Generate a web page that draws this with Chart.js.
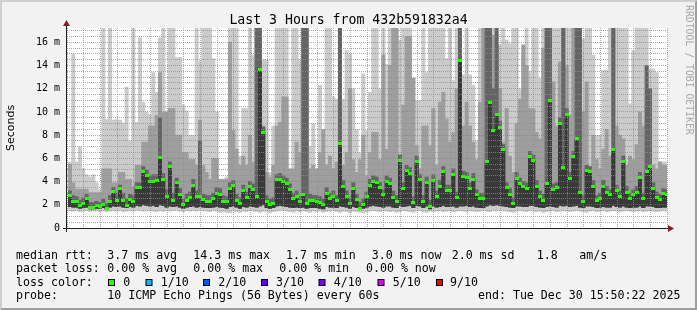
<!DOCTYPE html>
<html>
<head>
<meta charset="utf-8">
<script src="https://cdn.jsdelivr.net/npm/chart.js@4.4.1/dist/chart.umd.min.js"></script>
<style>
html,body{margin:0;padding:0;background:#f2f2f2;}
#wrap{width:697px;height:310px;position:relative;}
canvas{display:block;}
</style>
</head>
<body>
<div id="wrap"><canvas id="c" width="697" height="310"></canvas></div>
<script>
// ---------- data (ms), one value per 60 s sample, first sample 12:51 ----------
const med = [
2.8,2.3,2.25,1.9,2.1,2.55,1.75,1.75,1.9,1.85,
2.05,1.65,2.3,3.15,2.4,3.4,2.4,1.95,2.45,2.3,
3.45,3.45,4.9,4.5,4.05,4.05,4.1,6.1,4.15,2.75,
5.3,2.4,3.9,2.9,2.0,2.4,2.6,3.7,2.75,2.75,
2.45,2.25,2.25,2.5,3.0,
2.9,2.3,2.25,3.4,3.65,2.4,2.1,3.25,2.65,3.55,
3.35,2.7,13.7,8.25,2.25,2.05,2.1,4.15,4.2,4.0,
3.8,3.35,2.5,2.7,2.25,2.85,2.15,2.4,2.35,2.3,
2.2,2.0,3.0,2.55,2.75,2.35,7.25,3.6,2.7,2.1,
3.4,2.45,1.7,2.05,
2.7,
3.7,4.05,3.9,3.45,2.85,4.0,3.85,2.65,2.3,5.85,
3.4,4.95,4.7,2.2,5.7,4.15,2.3,3.9,1.85,4.1,
2.7,3.6,4.85,3.25,3.25,4.6,2.65,14.4,4.45,4.35,
3.4,4.2,2.85,2.55,2.5,5.75,10.8,8.4,9.75,8.7,
6.75,3.45,2.9,2.1,
4.3,
3.8,3.55,3.4,6.15,5.85,3.6,2.75,2.4,3.8,11.0,
3.3,3.45,9.0,5.25,9.8,4.3,6.15,7.7,3.1,2.3,
4.95,4.9,3.6,2.35,2.55,3.6,3.1,2.85,6.8,3.25,
2.75,5.75,3.1,2.55,2.85,3.1,4.35,2.5,4.9,5.3,
3.4,2.6,2.45,2.95,
2.9];

const smokeMax = [
5.7,15.0,5.7,7.0,5.1,4.6,4.4,4.6,3.9,3.3,
17.3,9.35,17.3,9.3,9.35,9.3,9.05,12.15,7.5,17.3,
9.1,16.4,10.85,10.0,9.8,13.4,11.7,16.4,17.3,10.0,
17.3,17.3,14.7,14.7,10.6,10.1,8.0,8.0,17.3,14.4,
17.3,17.3,17.3,14.6,10.0,
4.2,4.2,4.4,17.3,17.3,17.3,6.2,10.3,10.3,17.3,
14.9,17.3,17.3,14.5,14.5,4.8,8.8,17.3,17.3,17.3,
17.3,4.8,17.3,17.3,14.5,17.3,17.3,7.0,9.0,4.8,
12.3,8.5,17.3,17.3,11.3,11.1,17.3,11.1,15.3,15.0,
12.0,8.5,6.5,13.3,
8.4,
11.7,17.3,17.3,12.0,17.3,14.1,17.3,17.3,17.3,16.2,
17.3,17.3,17.3,12.9,11.0,11.0,17.3,13.4,17.3,17.3,
17.3,17.3,17.3,14.6,17.3,12.7,17.3,17.3,13.2,17.3,
13.2,12.3,7.5,17.3,17.3,17.3,17.3,17.3,16.6,15.8,
17.3,16.2,15.9,17.3,
17.3,
12.0,15.0,17.3,13.5,17.3,17.3,12.9,17.3,17.3,17.3,
17.3,17.3,17.3,17.3,17.3,17.3,17.3,17.3,17.3,16.3,
17.3,17.3,14.9,8.0,8.0,13.6,13.6,17.3,14.6,17.3,
17.3,17.3,17.3,10.7,15.3,17.3,17.3,17.3,17.3,13.7,
13.7,13.4,5.7,5.7,
5.7];

const smokeMidTop = [
5.5,3.9,3.35,3.35,3.35,3.35,3.05,3.05,3.05,3.05,
5.1,5.1,5.1,3.9,3.9,4.8,4.8,4.2,4.2,3.6,
5.4,5.4,7.4,7.4,8.8,8.8,9.7,13.4,10.0,10.0,
10.3,10.3,8.0,8.0,6.5,6.5,5.9,5.9,5.4,9.3,
5.4,4.8,4.2,6.0,6.0,
4.2,4.2,4.2,16.0,8.4,6.8,5.4,6.2,5.4,8.0,
5.7,17.3,14.9,8.8,4.8,4.4,5.4,8.8,9.1,11.3,
11.3,5.1,5.1,7.4,6.5,17.3,17.3,5.1,5.4,5.1,
6.5,8.5,5.4,6.2,5.1,5.7,17.3,5.4,6.5,12.0,
5.9,4.8,5.9,8.0,
4.5,
6.5,8.25,8.25,5.9,14.9,6.8,14.0,17.3,17.3,5.9,
10.6,16.5,16.5,12.9,7.1,5.1,8.8,8.8,7.1,10.3,
5.4,10.85,11.7,9.4,7.4,8.25,12.0,11.7,8.8,10.85,
8.8,7.4,5.9,10.85,17.3,17.3,13.7,16.6,15.8,12.0,
7.4,10.3,6.2,4.8,
9.0,
11.1,15.8,14.0,10.3,10.3,8.25,7.7,15.5,17.3,17.3,
12.6,8.8,14.3,17.3,14.0,9.7,17.3,17.3,11.1,10.0,
12.6,4.8,8.0,5.9,5.1,6.8,8.5,6.2,17.3,8.8,
8.0,7.7,5.4,6.2,5.9,7.2,10.0,8.8,10.6,10.85,
5.4,5.1,5.7,5.4,
5.4];

const smokeDarkTop = [
3.2,2.8,2.7,2.4,2.6,2.9,2.2,2.2,2.3,2.2,
2.5,2.1,2.8,3.5,3.0,3.7,3.0,2.5,2.9,2.8,
3.9,3.9,5.3,5.0,4.5,4.6,4.6,9.5,4.7,3.3,
5.7,3.0,4.3,3.4,2.5,2.9,3.1,4.2,3.2,7.5,
2.9,2.8,2.8,3.0,3.5,
3.4,2.8,2.7,3.9,4.1,2.9,2.6,3.7,3.1,4.0,
3.8,17.3,17.3,8.7,2.8,2.5,2.6,4.6,4.7,4.5,
4.3,3.8,3.0,3.2,2.7,17.3,17.3,2.9,2.8,2.8,
2.7,2.5,3.5,3.0,3.2,2.8,17.3,4.1,3.2,2.6,
3.9,2.9,2.2,2.5,
3.1,
4.2,4.5,4.4,3.9,3.3,4.5,4.3,3.2,2.8,6.3,
3.9,5.4,5.2,2.7,6.2,4.6,2.8,4.4,2.4,4.6,
3.2,4.1,5.3,3.7,3.7,5.1,3.1,17.3,4.9,4.8,
3.9,4.7,3.3,3.0,3.0,17.3,17.3,12.0,17.3,9.2,
7.2,3.9,3.4,2.6,
4.8,
4.3,4.0,3.9,6.6,6.3,4.1,3.2,2.9,17.3,17.3,
3.8,3.9,9.5,17.3,10.3,4.8,6.6,17.3,17.3,2.8,
5.4,5.3,4.1,2.8,3.0,4.1,3.6,3.3,17.3,3.7,
3.2,6.2,3.6,3.0,3.3,3.6,4.8,3.0,14.0,12.0,
3.9,3.1,2.9,3.4,
3.3];

const smokeLow = [
1.85,1.8,1.8,1.7,1.75,1.8,1.65,1.65,1.7,1.7,
1.75,1.6,1.8,1.9,1.85,1.9,1.8,1.75,1.85,1.8,
1.95,1.9,2.0,1.95,1.9,1.95,1.85,2.0,1.95,1.8,
1.9,1.85,1.9,1.8,1.7,1.8,1.85,1.9,1.8,1.85,
1.8,1.75,1.75,1.8,1.85,1.8,1.75,1.7,1.85,1.9,
1.8,1.7,1.85,1.8,1.9,1.85,1.8,1.9,2.0,1.75,
1.7,1.75,1.9,1.95,1.9,1.85,1.8,1.75,1.8,1.75,
1.8,1.7,1.75,1.75,1.75,1.7,1.65,1.85,1.8,1.8,
1.75,1.9,1.85,1.8,1.7,1.85,1.75,1.6,1.7,1.8,
1.9,1.95,1.9,1.85,1.8,1.9,1.9,1.8,1.75,1.95,
1.85,1.9,1.95,1.75,1.95,1.9,1.75,1.9,1.65,1.9,
1.8,1.85,1.95,1.85,1.85,1.9,1.8,1.9,1.9,1.95,
1.85,1.9,1.8,1.75,1.75,1.9,2.0,1.95,2.0,1.95,
1.9,1.85,1.8,1.75,1.9,1.9,1.85,1.85,1.95,1.95,
1.85,1.8,1.75,1.85,1.9,1.85,1.8,1.95,1.9,1.95,
1.85,1.9,1.95,1.8,1.75,1.9,1.9,1.85,1.75,1.8,
1.85,1.8,1.8,1.95,1.85,1.8,1.9,1.8,1.75,1.8,
1.8,1.9,1.75,1.9,1.9,1.85,1.75,1.75,1.8,1.8];

const smokeMin = [
1.5,1.45,1.5,1.4,1.45,1.5,1.4,1.45,1.45,1.4,
1.5,1.4,1.45,1.5,1.45,1.5,1.4,1.45,1.5,1.45,
1.55,1.5,1.45,1.5,1.55,1.45,1.4,1.5,1.45,1.5,
1.45,1.5,1.55,1.45,1.4,1.5,1.45,1.5,1.45,1.55,
1.5,1.45,1.4,1.5,1.45,1.35,1.4,1.35,1.3,1.45,
1.4,1.35,1.45,1.4,1.5,1.45,1.4,1.35,1.45,1.4,
1.3,1.4,1.45,1.5,1.5,1.45,1.4,1.35,1.45,1.4,
1.45,1.4,1.35,1.45,1.4,1.45,1.35,1.4,1.45,1.5,
1.4,1.35,1.45,1.4,1.3,1.45,1.4,1.35,1.3,1.4,
1.45,1.5,1.45,1.4,1.5,1.45,1.4,1.45,1.35,1.4,
1.5,1.45,1.4,1.35,1.45,1.5,1.4,1.35,1.45,1.4,
1.45,1.5,1.4,1.45,1.5,1.4,1.45,1.5,1.45,1.4,
1.5,1.45,1.4,1.45,1.5,1.45,1.4,1.5,1.45,1.55,
1.5,1.45,1.4,1.35,1.45,1.5,1.45,1.4,1.5,1.45,
1.4,1.45,1.35,1.4,1.45,1.5,1.4,1.45,1.5,1.45,
1.4,1.45,1.5,1.45,1.4,1.35,1.45,1.5,1.4,1.45,
1.5,1.4,1.45,1.5,1.45,1.4,1.45,1.5,1.45,1.4,
1.45,1.5,1.4,1.45,1.5,1.45,1.4,1.45,1.5,1.45];

// time axis: minutes after 12:00
const firstSampleCentre = 51.5;   // 12:51:30
const axisStart = 50.61, axisEnd = 230.61;
const times = med.map((_, k) => firstSampleCentre + k);

// ---------- texts ----------
const titleText = "Last 3 Hours from 432b591832a4";
const yTitle = "Seconds";
const watermark = "RRDTOOL / TOBI OETIKER";
const rttRow = ["median rtt:", "3.7 ms avg", "14.3 ms max", "1.7 ms min", "3.0 ms now", "2.0 ms sd", "1.8", "am/s"];
const lossRow = ["packet loss:", "0.00 % avg", "0.00 % max", "0.00 % min", "0.00 % now"];
const lossColorTitle = "loss color:";
const lossLabels = ["0", "1/10", "2/10", "3/10", "4/10", "5/10", "9/10"];
const lossColors = ["#26ff00", "#00b8ff", "#0059ff", "#5e00ff", "#7e00ff", "#dd00ff", "#ff0000"];
const probeRow = ["probe:", "10 ICMP Echo Pings (56 Bytes) every 60s", "end: Tue Dec 30 15:50:22 2025"];

// ---------- layout (px) ----------
const rttX = [16, 107.3, 193.3, 286, 371.7, 451.7, 536.7, 579.3];
const lossX = [16, 107.3, 193.3, 279.3, 366];
const swatchX = [108, 145.5, 203, 261, 318.5, 377.5, 436];
const swatchLabelX = [123.3, 160.7, 218.3, 276, 333.7, 392.7, 450];
const probeX = [16, 107.3, 478];
const rowY = [258.6, 272.2, 285.9, 299.4];

const MONO = '"DejaVu Sans Mono", "Liberation Mono", monospace';

const greenMark = document.createElement('canvas');
greenMark.width = 4; greenMark.height = 3;
(function(){ const g = greenMark.getContext('2d'); g.fillStyle = lossColors[0]; g.fillRect(0, 0, 4, 3); })();

const bars = (lo, hi) => times.map((t, k) => ({x: t, y: [lo[k], hi[k]]}));

const isMult = (v, m) => Math.abs(v / m - Math.round(v / m)) < 1e-6;
const hhmm = v => (12 + Math.floor(v / 60)) + ':' + String(Math.round(v % 60)).padStart(2, '0');

const decor = {
  id: 'decor',
  beforeDraw(chart) {
    const {ctx, chartArea: a, width: W, height: H} = chart;
    ctx.save();
    ctx.fillStyle = '#f2f2f2'; ctx.fillRect(0, 0, W, H);
    ctx.fillStyle = '#cfcfcf';
    ctx.beginPath(); ctx.moveTo(0, H); ctx.lineTo(2, H - 2); ctx.lineTo(2, 2); ctx.lineTo(W - 2, 2); ctx.lineTo(W, 0); ctx.lineTo(0, 0); ctx.closePath(); ctx.fill();
    ctx.fillStyle = '#9e9e9e';
    ctx.beginPath(); ctx.moveTo(2, H - 2); ctx.lineTo(W - 2, H - 2); ctx.lineTo(W - 2, 2); ctx.lineTo(W, 0); ctx.lineTo(W, H); ctx.lineTo(0, H); ctx.closePath(); ctx.fill();
    ctx.fillStyle = '#ffffff'; ctx.fillRect(a.left, a.top, a.right - a.left, a.bottom - a.top);
    ctx.restore();
  },
  beforeDatasetsDraw(chart) { chart.ctx.imageSmoothingEnabled = false; },
  afterDraw(chart) {
    const {ctx, chartArea: a} = chart;
    ctx.save();
    // axes
    ctx.fillStyle = '#1f1f1f';
    ctx.fillRect(a.left - 1, a.top - 4, 1, a.bottom - a.top + 8);
    ctx.fillRect(a.left - 4, a.bottom, a.right - a.left + 6, 1);
    // arrows
    ctx.fillStyle = '#801f1f';
    ctx.beginPath(); ctx.moveTo(a.left - 4, a.top - 2); ctx.lineTo(a.left + 3, a.top - 2); ctx.lineTo(a.left - 0.5, a.top - 8); ctx.closePath(); ctx.fill();
    ctx.beginPath(); ctx.moveTo(a.right + 1, a.bottom - 3); ctx.lineTo(a.right + 1, a.bottom + 4); ctx.lineTo(a.right + 7, a.bottom + 0.5); ctx.closePath(); ctx.fill();

    // title
    ctx.fillStyle = '#000';
    ctx.font = '13.2px ' + MONO;
    ctx.textAlign = 'center'; ctx.textBaseline = 'alphabetic';
    ctx.fillText(titleText, 348.5, 24);

    // y title
    ctx.save();
    ctx.translate(10.8, 128); ctx.rotate(-Math.PI / 2);
    ctx.font = '11px "DejaVu Sans", sans-serif';
    ctx.textAlign = 'center'; ctx.textBaseline = 'middle';
    ctx.fillText(yTitle, 0, 0);
    ctx.restore();

    // watermark
    ctx.save();
    ctx.translate(688.3, 5); ctx.rotate(Math.PI / 2);
    ctx.font = '9.8px ' + MONO;
    ctx.fillStyle = '#a9a9a9';
    ctx.textAlign = 'left'; ctx.textBaseline = 'middle';
    ctx.fillText(watermark, 0, 0);
    ctx.restore();

    // legend rows
    ctx.font = '11.6px ' + MONO;
    ctx.fillStyle = '#000';
    ctx.textAlign = 'left'; ctx.textBaseline = 'alphabetic';
    rttRow.forEach((s, i) => ctx.fillText(s, rttX[i], rowY[0]));
    lossRow.forEach((s, i) => ctx.fillText(s, lossX[i], rowY[1]));
    ctx.fillText(lossColorTitle, 16, rowY[2]);
    lossLabels.forEach((s, i) => {
      ctx.fillStyle = '#000';
      ctx.fillRect(swatchX[i], 279, 7, 7);
      ctx.fillStyle = lossColors[i];
      ctx.fillRect(swatchX[i] + 1, 280, 5, 5);
      ctx.fillStyle = '#000';
      ctx.fillText(s, swatchLabelX[i], rowY[2]);
    });
    probeRow.forEach((s, i) => ctx.fillText(s, probeX[i], rowY[3]));
    ctx.restore();
  }
};

const barCommon = {type: 'bar', grouped: false, barPercentage: 1, categoryPercentage: 1, borderWidth: 0, clip: 0};

new Chart(document.getElementById('c'), {
  type: 'bar',
  data: {
    datasets: [
      {type: 'line', label: 'median', data: times.map((t, k) => ({x: t, y: med[k]})), showLine: false,
       pointStyle: greenMark, pointRadius: 2, pointHoverRadius: 2, order: 1},
      Object.assign({label: 'core', data: bars(smokeLow, med), backgroundColor: '#393939', order: 2}, barCommon),
      Object.assign({label: 'dark', data: bars(smokeLow, smokeDarkTop), backgroundColor: '#646464', order: 3}, barCommon),
      Object.assign({label: 'mid', data: bars(smokeLow, smokeMidTop), backgroundColor: '#9e9e9e', order: 4}, barCommon),
      Object.assign({label: 'light', data: bars(smokeMin, smokeMax), backgroundColor: '#cbcbcb', order: 5}, barCommon)
    ]
  },
  options: {
    responsive: false,
    devicePixelRatio: 1,
    animation: false,
    events: [],
    layout: {padding: {left: 0, top: 28, right: 30, bottom: 0}},
    plugins: {legend: {display: false}, tooltip: {enabled: false}, title: {display: false}},
    scales: {
      x: {
        type: 'linear', min: axisStart, max: axisEnd, offset: false,
        afterFit(s) { s.height = 82; },
        border: {display: false, dash: [1, 1]},
        grid: {offset: false, drawTicks: false, z: 1, lineWidth: 1,
          color: c => isMult(c.tick.value, 20) ? 'rgba(222,79,79,0.6)' : 'rgba(143,143,143,0.75)'},
        ticks: {stepSize: 5, includeBounds: false, autoSkip: false, maxRotation: 0, padding: 4,
          color: '#000', font: {family: MONO, size: 10},
          callback: v => isMult(v, 20) ? hhmm(v) : ''}
      },
      y: {
        min: 0, max: 17.24,
        afterFit(s) { s.width = 67; },
        border: {display: false, dash: [1, 1]},
        grid: {drawTicks: false, z: 1, lineWidth: 1,
          color: c => (c.tick.value > 0 && isMult(c.tick.value, 2)) ? 'rgba(222,79,79,0.6)' : 'rgba(143,143,143,0.75)'},
        ticks: {stepSize: 0.5, includeBounds: false, autoSkip: false, padding: 7,
          color: '#000', font: {family: MONO, size: 10},
          callback: v => v === 0 ? '0' : (isMult(v, 2) ? v + ' m' : '')}
      }
    }
  },
  plugins: [decor]
});
</script>
</body>
</html>
